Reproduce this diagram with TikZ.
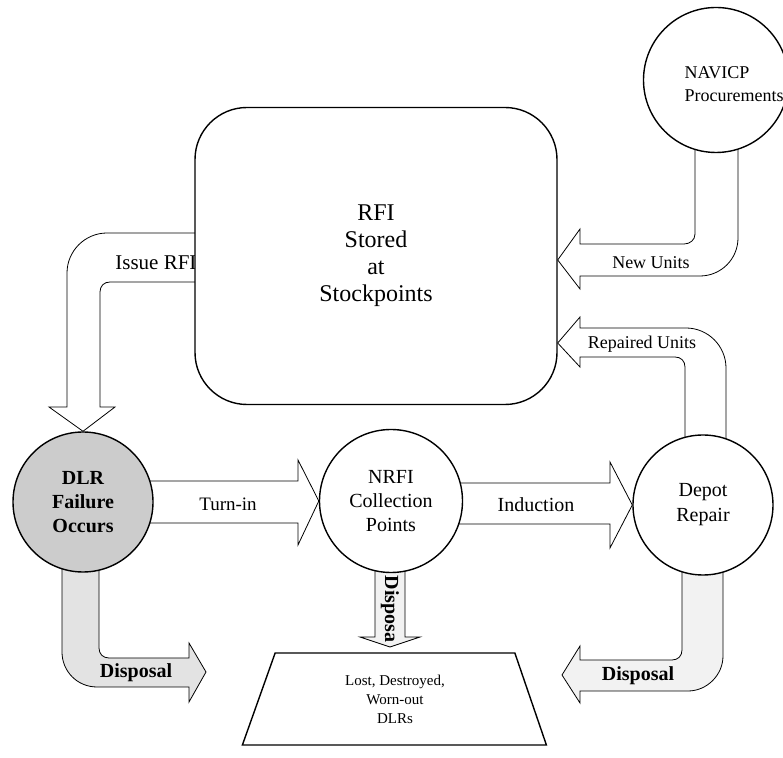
\documentclass[tikz,border=0pt]{standalone}
\usepackage{fontspec}
\setmainfont{Liberation Serif}
\usetikzlibrary{calc,backgrounds,shapes.geometric}

\begin{document}
\begin{tikzpicture}[x=0.5pt, y=-0.5pt, line width=0.7pt]
        \tikzstyle{every node}=[inner sep=0pt, align=center]
        \tikzstyle{circ}=[circle, draw, fill=white, font=\fontsize{10}{12}\selectfont]
        \tikzstyle{band}=[draw, fill=white, line join=miter]
        \tikzstyle{lbl}=[font=\fontsize{9}{11}\selectfont]
        \tikzstyle{dlbl}=[font=\bfseries\fontsize{10}{12}\selectfont]
        \useasboundingbox (0,0) rectangle (783,758);
        % stores and stations
        \node [draw, fill=white, rounded corners=26pt, minimum width=181pt, minimum height=148.5pt, font=\fontsize{12}{13.5}\selectfont] (rfi) at (376,256) {RFI\\Stored\\at\\Stockpoints};
        \node [circ, minimum size=72.5pt] (navicp) at (716,80) {};
        \node [lbl, anchor=west, align=left, font=\fontsize{9}{11.5}\selectfont] (navicptxt) at ($(navicp.center)+(-32,4)$) {NAVICP\\Procurements};
        \node [circ, fill=gray!40, minimum size=70pt, font=\bfseries\fontsize{10}{12}\selectfont] (dlr) at (83,502) {DLR\\Failure\\Occurs};
        \node [circ, minimum size=71.5pt] (nrfi) at (391,501) {NRFI\\Collection\\Points};
        \node [circ, minimum size=70pt, font=\fontsize{10}{12.5}\selectfont] (depot) at (703,505) {Depot\\Repair};
        \node [trapezium, draw, fill=white, trapezium left angle=56, trapezium right angle=57, trapezium stretches body, minimum width=152pt, minimum height=46pt, font=\fontsize{7.5}{9.5}\selectfont] (lost) at (395,699) {Lost, Destroyed,\\Worn-out\\DLRs};
        % flows
        \begin{scope}[on background layer]
        \draw [band] (200,233) -- (107,233) .. controls (85,233) and (67,251) .. (67,273) -- (67,407) -- (49,407) -- (dlr.north) -- (115,407) -- (100,407) -- (100,292) .. controls (100,286) and (104,282) .. (110,282) -- (200,282) -- cycle;
        \node [lbl, anchor=west, font=\fontsize{10.5}{12}\selectfont] (issue) at (115,263) {Issue RFI};
        \draw [band] (695,140) -- (695,234) .. controls (695,240) and (690,244) .. (684,244) -- (580,244) -- (580,229) -- (rfi.east |- 0,260) -- (580,289) -- (580,276) -- (700,276) .. controls (721,276) and (738,259) .. (738,238) -- (738,140) -- cycle;
        \node [lbl] (newunits) at (651,263) {New Units};
        \draw [band] (685,445) -- (685,367) .. controls (685,361) and (681,357) .. (675,357) -- (580,357) -- (580,367) -- (rfi.east |- 0,343) -- (580,317) -- (580,328) -- (686,328) .. controls (708,328) and (726,346) .. (726,368) -- (726,445) -- cycle;
        \node [lbl] (repaired) at (642,344) {Repaired Units};
        \draw [band] (148,481) -- (298,481) -- (298,460) -- (nrfi.west) -- (298,545) -- (298,523) -- (148,523) -- cycle;
        \node [lbl, font=\fontsize{9.5}{11}\selectfont] (turnin) at (228,504) {Turn-in};
        \draw [band] (455,483) -- (610,483) -- (610,462) -- (depot.west) -- (610,548) -- (610,524) -- (455,524) -- cycle;
        \node [lbl, font=\fontsize{10}{11}\selectfont] (induction) at (536,505) {Induction};
        % disposal
        \draw [band, fill=gray!22] (62,560) -- (62,652) .. controls (62,671) and (77,687) .. (97,687) -- (189,687) -- (189,702) -- (206,672) -- (189,643) -- (189,658) -- (109,658) .. controls (103,658) and (99,654) .. (99,648) -- (99,560) -- cycle;
        \node [dlbl] (displeft) at (136,673) {Disposal};
        \draw [band, fill=gray!10] (375,565) -- (375,637) -- (360,637) -- (390,647) -- (420,637) -- (405,637) -- (405,565) -- cycle;
        \node [dlbl, rotate=-90] (dispmid) at (390,609) {Disposa};
        \draw [band, fill=gray!10] (682,565) -- (682,650) .. controls (682,656) and (678,660) .. (672,660) -- (580,660) -- (580,646) -- (562,675) -- (580,703) -- (580,691) -- (688,691) .. controls (707,691) and (723,675) .. (723,656) -- (723,565) -- cycle;
        \node [dlbl] (dispright) at (638,676) {Disposal};
        \end{scope}
\end{tikzpicture}
\end{document}
